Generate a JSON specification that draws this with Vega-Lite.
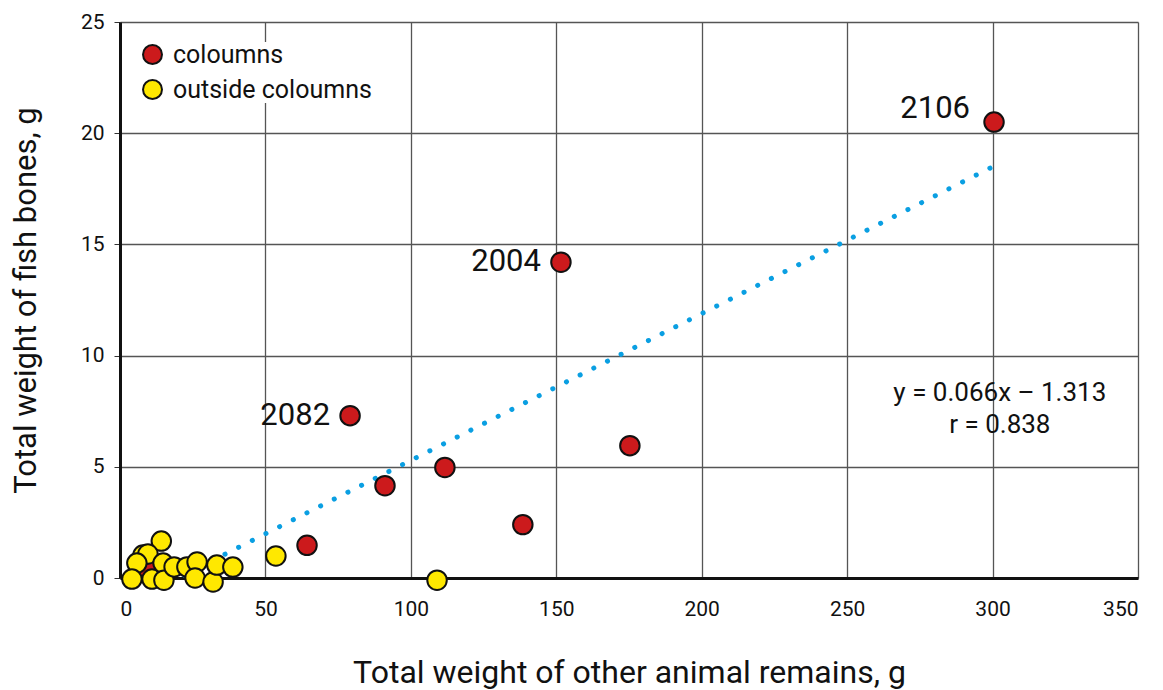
{
  "$schema": "https://vega.github.io/schema/vega-lite/v6.json",
  "width": 1018,
  "height": 556,
  "autosize": {"type": "none"},
  "padding": {"left": 120, "top": 22, "right": 25, "bottom": 112},
  "background": "white",
  "config": {
    "font": "Roboto",
    "view": {"stroke": null},
    "axis": {
      "labelFont": "Roboto",
      "titleFont": "Roboto",
      "labelColor": "#111",
      "titleColor": "#111",
      "titleFontWeight": "normal",
      "gridColor": "#555",
      "gridWidth": 1.3,
      "gridOpacity": 1,
      "domainColor": "#111",
      "domainWidth": 3,
      "tickColor": "#333"
    }
  },
  "datasets": {
    "samples": [
      {"other": 300.5, "fish": 20.5, "group": "coloumns", "label": "2106"},
      {"other": 151.6, "fish": 14.2, "group": "coloumns", "label": "2004"},
      {"other": 79.1, "fish": 7.3, "group": "coloumns", "label": "2082"},
      {"other": 175.3, "fish": 5.95, "group": "coloumns", "label": null},
      {"other": 111.7, "fish": 4.97, "group": "coloumns", "label": null},
      {"other": 91.1, "fish": 4.15, "group": "coloumns", "label": null},
      {"other": 138.5, "fish": 2.4, "group": "coloumns", "label": null},
      {"other": 64.3, "fish": 1.47, "group": "coloumns", "label": null},
      {"other": 9.6, "fish": 0.36, "group": "coloumns", "label": null},
      {"other": 14.2, "fish": 1.66, "group": "outside coloumns", "label": null},
      {"other": 7.9, "fish": 1.03, "group": "outside coloumns", "label": null},
      {"other": 9.6, "fish": 1.08, "group": "outside coloumns", "label": null},
      {"other": 5.8, "fish": 0.67, "group": "outside coloumns", "label": null},
      {"other": 4.1, "fish": -0.05, "group": "outside coloumns", "label": null},
      {"other": 11.0, "fish": -0.05, "group": "outside coloumns", "label": null},
      {"other": 14.8, "fish": 0.67, "group": "outside coloumns", "label": null},
      {"other": 15.1, "fish": -0.1, "group": "outside coloumns", "label": null},
      {"other": 18.6, "fish": 0.5, "group": "outside coloumns", "label": null},
      {"other": 23.0, "fish": 0.5, "group": "outside coloumns", "label": null},
      {"other": 26.5, "fish": 0.72, "group": "outside coloumns", "label": null},
      {"other": 25.8, "fish": 0.0, "group": "outside coloumns", "label": null},
      {"other": 32.0, "fish": -0.18, "group": "outside coloumns", "label": null},
      {"other": 33.3, "fish": 0.58, "group": "outside coloumns", "label": null},
      {"other": 38.8, "fish": 0.49, "group": "outside coloumns", "label": null},
      {"other": 53.6, "fish": 0.99, "group": "outside coloumns", "label": null},
      {"other": 109.0, "fish": -0.1, "group": "outside coloumns", "label": null}
    ],
    "trend": [
      {"other": 22, "fish": 0.139},
      {"other": 300, "fish": 18.487}
    ],
    "stats": [
      {"other": 302.5, "fish": 8.3, "text": "y = 0.066x – 1.313"},
      {"other": 302.5, "fish": 6.9, "text": "r = 0.838"}
    ]
  },
  "layer": [
    {
      "data": {"name": "trend"},
      "mark": {"type": "line", "color": "#0a9fe2", "strokeWidth": 5, "strokeCap": "round", "strokeDash": [0.1, 15.2]},
      "encoding": {
        "x": {
          "field": "other", "type": "quantitative",
          "scale": {"domain": [0, 350], "nice": false},
          "axis": {
            "values": [0, 50, 100, 150, 200, 250, 300, 350],
            "title": "Total weight of other animal remains, g",
            "titleFontSize": 32,
            "titlePadding": 38,
            "labelFontSize": 21,
            "labelPadding": 20,
            "ticks": false,
            "grid": true
          }
        },
        "y": {
          "field": "fish", "type": "quantitative",
          "scale": {"domain": [0, 25], "nice": false},
          "axis": {
            "values": [0, 5, 10, 15, 20, 25],
            "title": "Total weight of fish bones, g",
            "titleFontSize": 31,
            "titlePadding": 38,
            "labelFontSize": 21,
            "labelPadding": 10,
            "tickSize": 6,
            "grid": true
          }
        }
      }
    },
    {
      "data": {"name": "samples"},
      "mark": {"type": "point", "filled": true, "stroke": "#111", "strokeWidth": 2, "opacity": 1, "size": 380},
      "encoding": {
        "x": {"field": "other", "type": "quantitative"},
        "y": {"field": "fish", "type": "quantitative"},
        "fill": {
          "field": "group", "type": "nominal",
          "scale": {"domain": ["coloumns", "outside coloumns"], "range": ["#cc1a1c", "#ffe800"]},
          "legend": {
            "title": null,
            "orient": "none",
            "legendX": 20,
            "legendY": 20,
            "labelFontSize": 25,
            "labelColor": "#111",
            "labelFont": "Roboto",
            "labelLimit": 400,
            "symbolSize": 360,
            "symbolStrokeColor": "#111",
            "symbolStrokeWidth": 2,
            "rowPadding": 8,
            "labelOffset": 8,
            "fillColor": "white"
          }
        },
        "shape": {"value": "circle"},
        "order": {"field": "group", "sort": "ascending"}
      }
    },
    {
      "data": {"name": "samples"},
      "transform": [{"filter": "datum.label === '2004' || datum.label === '2082'"}],
      "mark": {"type": "text", "align": "right", "baseline": "middle", "dx": -20, "fontSize": 31, "color": "#111"},
      "encoding": {
        "x": {"field": "other", "type": "quantitative"},
        "y": {"field": "fish", "type": "quantitative"},
        "text": {"field": "label"}
      }
    },
    {
      "data": {"name": "samples"},
      "transform": [{"filter": "datum.label === '2106'"}],
      "mark": {"type": "text", "align": "right", "baseline": "middle", "dx": -24, "dy": -13, "fontSize": 31, "color": "#111"},
      "encoding": {
        "x": {"field": "other", "type": "quantitative"},
        "y": {"field": "fish", "type": "quantitative"},
        "text": {"field": "label"}
      }
    },
    {
      "data": {"name": "stats"},
      "mark": {"type": "text", "align": "center", "baseline": "middle", "fontSize": 26, "color": "#111"},
      "encoding": {
        "x": {"field": "other", "type": "quantitative"},
        "y": {"field": "fish", "type": "quantitative"},
        "text": {"field": "text"}
      }
    }
  ]
}
